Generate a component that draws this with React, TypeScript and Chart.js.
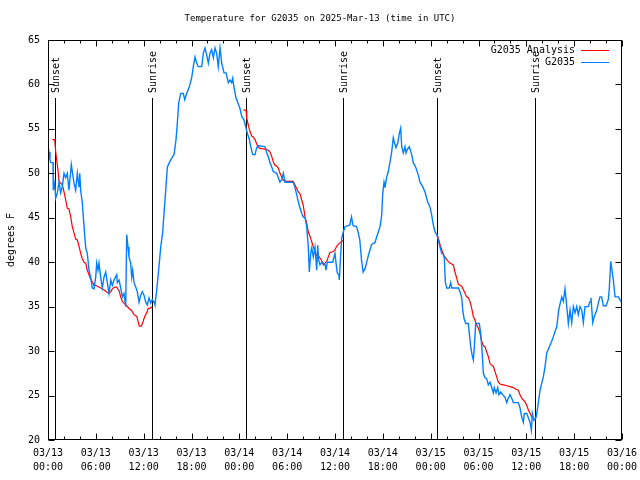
import React, { useEffect, useRef } from "react";
import { Chart, registerables } from "chart.js";

Chart.register(...registerables);

const TITLE = "Temperature for G2035 on 2025-Mar-13 (time in UTC)";
const Y_LABEL = "degrees F";
const LEGEND_ANALYSIS = "G2035 Analysis";
const LEGEND_OBS = "G2035";

const X_TICK_HOURS = [0, 6, 12, 18, 24, 30, 36, 42, 48, 54, 60, 66, 72];
const X_TICK_LABELS: string[][] = [
  ["03/13", "00:00"], ["03/13", "06:00"], ["03/13", "12:00"], ["03/13", "18:00"],
  ["03/14", "00:00"], ["03/14", "06:00"], ["03/14", "12:00"], ["03/14", "18:00"],
  ["03/15", "00:00"], ["03/15", "06:00"], ["03/15", "12:00"], ["03/15", "18:00"],
  ["03/16", "00:00"],
];
const X_MINOR_STEP = 2;
const Y_MIN = 20;
const Y_MAX = 65;
const Y_STEP = 5;

const SUN_LABELS = ["Sunset", "Sunrise", "Sunset", "Sunrise", "Sunset", "Sunrise"];
const SUN_HOURS = [0.83, 13.08, 24.88, 37.04, 48.83, 61.13];

// Observations: [hours since 03/13 00:00 UTC, degrees F]
const OBS_NIGHT1: number[][] = [
  [0, 53.1], [0.13, 52.4], [0.25, 51.5], [0.34, 51.2], [0.63, 51.2], [0.66, 48.1], [0.84, 48.9], [0.97, 47.2],
  [1.17, 47.8], [1.38, 49], [1.59, 47.8], [1.79, 48.5], [2.01, 50], [2.22, 49.5], [2.42, 50], [2.63, 48.1],
  [2.92, 51], [3.05, 50.2], [3.26, 48.9], [3.47, 48.1], [3.68, 50], [3.89, 48.5], [3.98, 50], [4.1, 48.1],
  [4.3, 46.7], [4.43, 45.1], [4.6, 43.1], [4.73, 41.6], [4.93, 41], [5.14, 39.1], [5.36, 38.3], [5.56, 37.1],
  [5.77, 37], [5.98, 38.3], [6.11, 39.9], [6.27, 39.1], [6.4, 39.9], [6.61, 38.3], [6.81, 37.1], [7.02, 38.3],
  [7.24, 38.9], [7.44, 37.7], [7.65, 36.5], [7.87, 38], [8.07, 37.4], [8.28, 38], [8.62, 38.6], [8.69, 37.7],
  [8.91, 38], [9.12, 37.1], [9.32, 36.1], [9.53, 36.5], [9.75, 35], [9.87, 43.1], [10.04, 41.7], [10.16, 40.6],
  [10.37, 39.9], [10.5, 38.3], [10.62, 39.1], [10.79, 37.7], [11, 37.2], [11.2, 36.7], [11.42, 35.5], [11.63, 36.3],
  [11.83, 36.7], [12.04, 36.3], [12.26, 35.5], [12.46, 35.2], [12.67, 36], [12.88, 35.4], [13.08, 35.8], [13.3, 35.5],
  [13.42, 35.2], [13.64, 36.9], [13.92, 39.5],
];
const OBS_DAY1: number[][] = [
  [14.14, 41.7], [14.39, 43.4], [14.55, 45.5], [14.8, 48.5], [14.97, 50.7], [15.22, 51.2], [15.52, 51.7], [15.81, 52.1],
  [16.06, 53.8], [16.22, 55.6], [16.39, 57.9], [16.65, 59], [16.97, 59], [17.15, 58.3], [17.4, 59], [17.72, 59.7],
  [18.03, 60.8], [18.23, 62], [18.44, 63.1], [18.65, 62.4], [18.85, 62], [19.28, 62], [19.48, 63.5], [19.69, 64.1],
  [19.91, 63.3], [20.11, 62.4], [20.32, 63.5], [20.53, 63.9], [20.74, 63], [20.95, 64.1], [21.16, 63.5], [21.36, 62],
  [21.58, 64.1], [21.79, 62.4], [22.08, 61.3], [22.33, 61.3], [22.62, 60.2], [22.83, 60.5], [23.04, 60.2], [23.17, 60.7],
  [23.33, 59.7], [23.58, 58.5], [23.87, 57.8], [24.08, 57.3], [24.3, 56.4], [24.59, 56], [24.84, 55.1],
];
const OBS_NIGHT2: number[][] = [
  [25, 54.5], [25.26, 53.8], [25.43, 53], [25.68, 52.1], [25.97, 52.1], [26.18, 52.9], [26.38, 53.1], [27.22, 53],
  [27.43, 52.3], [27.63, 51.9], [27.85, 51.2], [28.06, 50.7], [28.26, 50.2], [28.69, 50], [28.89, 49.5], [29.1, 49],
  [29.32, 49.3], [29.52, 50], [29.73, 49], [30.77, 49], [30.98, 48.4], [31.2, 47.6], [31.4, 46.8], [31.61, 46.1],
  [31.82, 45.5], [32.02, 45.1], [32.24, 45], [32.45, 44], [32.65, 41.7], [32.78, 38.9], [32.95, 41], [33.08, 41.6],
  [33.28, 40.6], [33.49, 41.7], [33.71, 39.1], [33.83, 41.9], [33.96, 40.2], [34.12, 39.7], [34.33, 40], [34.53, 39.9],
  [34.75, 39.7], [34.87, 39.1], [35.04, 40], [35.71, 40], [36, 41], [36.13, 39.9], [36.29, 38.8], [36.47, 38.6],
  [36.54, 38], [36.72, 41], [36.84, 42.7], [37.04, 43.4], [37.26, 44],
];
const OBS_DAY2: number[][] = [
  [37.86, 44.2], [38.07, 45.1], [38.27, 44.1], [38.7, 44], [38.9, 43.4], [39.11, 42.5], [39.33, 40.2], [39.53, 38.9],
  [39.78, 39.3], [40.03, 40.2], [40.29, 41.1], [40.59, 42], [41.01, 42.2], [41.22, 42.8], [41.43, 43.4], [41.65, 44],
  [41.86, 45.3], [41.99, 47.8], [42.15, 49], [42.27, 48.4], [42.49, 49.6], [42.69, 50.2], [42.9, 51.3], [43.11, 52.4],
  [43.31, 54], [43.44, 53.5], [43.65, 52.9], [43.87, 53.4], [44.07, 54.5], [44.24, 55.1], [44.37, 53], [44.57, 52.3],
  [44.78, 53], [44.91, 52.3], [45.07, 52.7], [45.32, 53], [45.62, 52.1], [45.82, 51.2], [46.16, 50.6], [46.45, 49.8],
  [46.66, 49], [47, 48.5], [47.29, 47.9], [47.5, 47.2], [47.7, 46.6], [47.92, 46.2], [48.13, 45.3], [48.33, 44.2],
  [48.55, 43.4], [48.76, 43.1],
];
const OBS_NIGHT3: number[][] = [
  [48.96, 42.5], [49.17, 41.7], [49.39, 41], [49.59, 41], [49.71, 40.5], [49.84, 37.8], [50.01, 37.1], [50.34, 37.1],
  [50.51, 37.7], [50.64, 37.1], [51.47, 37.1], [51.68, 36.7], [51.9, 36], [52.02, 34.6], [52.18, 33.7], [52.4, 33.1],
  [52.72, 33.1], [52.85, 32], [53.02, 30.5], [53.19, 29.6], [53.35, 29], [53.48, 30.5], [53.65, 33.1], [54.1, 33.1],
  [54.28, 32], [54.44, 30.1], [54.61, 27.5], [54.82, 27], [55.03, 26.9], [55.23, 26.2], [55.45, 26.5], [55.66, 25.9],
  [55.86, 25.3], [55.98, 25.9], [56.2, 25.3], [56.41, 25.9], [56.57, 25.1], [56.79, 25.4], [57.04, 25.1], [57.33, 24.8],
  [57.54, 24.2], [57.74, 24.7], [57.95, 25.1], [58.17, 24.7], [58.37, 24.2], [58.99, 24.2], [59.21, 23.6], [59.42, 22.6],
  [59.62, 22], [59.75, 23], [60.05, 23], [60.25, 22.5], [60.46, 22], [60.63, 21.1], [60.75, 23], [60.96, 22.2],
  [61.21, 22.5], [61.38, 23.4], [61.55, 24.5], [61.72, 25.6], [61.93, 26.4], [62.13, 27.1], [62.34, 28.2], [62.56, 29.8],
  [62.76, 30.2],
];
const OBS_DAY3: number[][] = [
  [63.18, 31.1], [63.38, 31.6], [63.6, 32.2], [63.81, 32.7], [63.94, 33.7], [64.06, 34.6], [64.23, 35.3], [64.44, 36.1],
  [64.64, 35.6], [64.85, 37], [65.07, 35], [65.27, 33.1], [65.48, 34.6], [65.69, 33.2], [65.9, 35], [66.11, 34.3],
  [66.32, 35], [66.52, 34.1], [66.73, 35], [66.95, 34.6], [67.15, 33.2], [67.36, 35], [67.78, 35], [67.99, 35.6],
  [68.11, 36], [68.33, 33.2], [68.53, 33.9], [68.83, 34.6], [69.03, 35.4], [69.24, 36.1], [69.45, 36.1], [69.66, 35.1],
  [70, 35.1], [70.28, 35.8], [70.41, 37.1], [70.59, 40.1], [70.71, 39.3], [70.91, 38], [71.13, 36.1], [71.54, 36.1],
  [71.75, 35.8], [72, 35.4],
];

// Analysis (night-time only)
const ANALYSIS_NIGHT1: number[][] = [
  [0.54, 53.8], [0.84, 53.8], [0.97, 52.4], [1.09, 51.5], [1.25, 50.4], [1.38, 49.1], [1.59, 48.9], [1.79, 48.7],
  [2.01, 47.9], [2.22, 47], [2.42, 46.1], [2.63, 46], [2.85, 45.1], [3.05, 44], [3.26, 43.3], [3.47, 42.6],
  [3.68, 42.5], [3.89, 41.8], [4.1, 41], [4.3, 40.4], [4.52, 40], [4.73, 39.9], [4.93, 39.1], [5.14, 38.6],
  [5.36, 38.1], [5.56, 37.8], [5.77, 37.4], [5.98, 37.4], [6.18, 37.3], [6.61, 37.1], [7.02, 36.9], [7.44, 36.6],
  [7.65, 36.5], [7.87, 36.7], [8.07, 37], [8.37, 37.2], [8.62, 37.2], [8.91, 36.8], [9.12, 36.1], [9.32, 35.6],
  [9.53, 35.4], [9.87, 35.1], [10.16, 34.8], [10.45, 34.6], [10.79, 34.1], [11.13, 33.9], [11.29, 33.4], [11.45, 32.8],
  [11.7, 32.8], [11.92, 33.3], [12.13, 33.9], [12.38, 34.3], [12.58, 34.8], [12.79, 34.8], [13.05, 35],
];
const ANALYSIS_NIGHT2: number[][] = [
  [24.5, 57.1], [24.84, 57.1], [24.93, 56.2], [25.13, 55.4], [25.34, 54.7], [25.55, 54.2], [25.75, 54.1], [25.97, 53.8],
  [26.18, 53.3], [26.38, 52.9], [26.59, 52.8], [27.43, 52.7], [27.63, 52.6], [27.85, 52.4], [28.06, 51.9], [28.26, 51.3],
  [28.47, 50.9], [28.69, 50.8], [28.89, 50.6], [29.1, 50], [29.32, 49.6], [29.52, 49.2], [29.94, 49.1], [30.77, 49.1],
  [30.98, 48.7], [31.2, 48.3], [31.4, 47.9], [31.61, 47.7], [31.82, 47], [32.02, 46.4], [32.24, 45.1], [32.45, 44.4],
  [32.65, 43.4], [32.87, 42.9], [33.08, 42.3], [33.28, 41.7], [33.49, 41.2], [33.71, 40.8], [34.03, 40.6], [34.33, 40.2],
  [34.53, 39.7], [34.75, 39.9], [34.96, 40.1], [35.16, 40.6], [35.37, 41.1], [35.79, 41.2], [36, 41.4], [36.21, 41.8],
  [36.42, 42], [36.63, 42.2], [36.84, 42.3], [37, 42.5],
];
const ANALYSIS_NIGHT3: number[][] = [
  [48.76, 43.3], [48.96, 42.7], [49.17, 42], [49.39, 41.4], [49.59, 40.8], [49.8, 40.6], [50.01, 40.3], [50.21, 40.1],
  [50.43, 39.9], [50.64, 39.8], [50.84, 39.7], [51.05, 38.9], [51.27, 38.2], [51.47, 37.5], [51.68, 37.4], [51.9, 37.3],
  [52.1, 36.9], [52.31, 36.5], [52.52, 36.1], [52.72, 36], [52.93, 35.6], [53.15, 34.8], [53.35, 33.9], [53.56, 33.5],
  [53.78, 32.9], [53.98, 32.6], [54.19, 32], [54.4, 31.1], [54.61, 30.6], [54.82, 30.5], [55.03, 29.9], [55.23, 29.4],
  [55.45, 28.6], [55.66, 28.4], [55.86, 28.3], [56.07, 27.7], [56.28, 27.1], [56.49, 26.5], [56.7, 26.3], [57.11, 26.2],
  [57.54, 26.1], [57.95, 26], [58.37, 25.9], [58.71, 25.7], [58.99, 25.6], [59.21, 25.1], [59.42, 24.7], [59.62, 24.5],
  [59.84, 24.3], [60.05, 23.9], [60.25, 23.4], [60.46, 23], [60.67, 22.6], [60.96, 22.5],
];

const FONT = "'DejaVu Sans Mono', 'Liberation Mono', monospace";
const RED = "#ff0000";
const BLUE = "#0080ff";

function toPoints(segs: number[][][]) {
  const out: { x: number; y: number | null }[] = [];
  segs.forEach((seg, i) => {
    if (i > 0) out.push({ x: (segs[i - 1][segs[i - 1].length - 1][0] + seg[0][0]) / 2, y: null });
    seg.forEach((p) => out.push({ x: p[0], y: p[1] }));
  });
  return out;
}

const decor = {
  id: "decor",
  beforeDatasetsDraw(chart: any) {
    const { ctx, chartArea, scales } = chart;
    const x = scales.x;
    ctx.save();
    ctx.strokeStyle = "#000";
    ctx.fillStyle = "#000";
    ctx.lineWidth = 1;
    ctx.font = `10px ${FONT}`;
    SUN_HOURS.forEach((h, i) => {
      const px = Math.round(x.getPixelForValue(h)) + 0.5;
      ctx.beginPath();
      ctx.moveTo(px, chartArea.top + 58);
      ctx.lineTo(px, chartArea.bottom);
      ctx.stroke();
      ctx.save();
      ctx.translate(px + 1, chartArea.top + 53);
      ctx.rotate(-Math.PI / 2);
      ctx.textAlign = "left";
      ctx.textBaseline = "middle";
      ctx.fillText(SUN_LABELS[i], 0, 0);
      ctx.restore();
    });
    ctx.restore();
  },
  afterDatasetsDraw(chart: any) {
    const { ctx, chartArea, scales } = chart;
    const x = scales.x;
    const y = scales.y;
    const L = chartArea.left + 0.5;
    const R = chartArea.right - 0.5;
    const T = chartArea.top + 0.5;
    const B = chartArea.bottom - 0.5;
    ctx.save();
    ctx.strokeStyle = "#000";
    ctx.lineWidth = 1;
    ctx.strokeRect(L, T, R - L, B - T);
    ctx.beginPath();
    for (let h = X_TICK_HOURS[0]; h <= X_TICK_HOURS[X_TICK_HOURS.length - 1]; h += X_MINOR_STEP) {
      const px = Math.round(x.getPixelForValue(h)) + 0.5;
      const len = X_TICK_HOURS.includes(h) ? 6 : 3;
      ctx.moveTo(px, B);
      ctx.lineTo(px, B - len);
      ctx.moveTo(px, T);
      ctx.lineTo(px, T + len);
    }
    for (let v = Y_MIN; v <= Y_MAX; v += Y_STEP) {
      const py = Math.round(y.getPixelForValue(v)) + 0.5;
      ctx.moveTo(L, py);
      ctx.lineTo(L + 6, py);
      ctx.moveTo(R, py);
      ctx.lineTo(R - 6, py);
    }
    ctx.stroke();

    ctx.fillStyle = "#000";
    ctx.font = `9px ${FONT}`;
    ctx.textAlign = "center";
    ctx.textBaseline = "middle";
    ctx.fillText(TITLE, 320, 19);

    ctx.font = `10px ${FONT}`;
    ctx.save();
    ctx.translate(11, (chartArea.top + chartArea.bottom) / 2);
    ctx.rotate(-Math.PI / 2);
    ctx.fillText(Y_LABEL, 0, 0);
    ctx.restore();

    const rows = [
      { label: LEGEND_ANALYSIS, color: RED, y: chartArea.top + 10.5 },
      { label: LEGEND_OBS, color: BLUE, y: chartArea.top + 22.5 },
    ];
    rows.forEach((r) => {
      ctx.fillStyle = "#000";
      ctx.textAlign = "right";
      ctx.fillText(r.label, chartArea.right - 47, r.y);
      ctx.strokeStyle = r.color;
      ctx.beginPath();
      ctx.moveTo(chartArea.right - 41, r.y);
      ctx.lineTo(chartArea.right - 13, r.y);
      ctx.stroke();
    });
    ctx.restore();
  },
};

export default function App() {
  const ref = useRef<HTMLCanvasElement | null>(null);
  useEffect(() => {
    if (!ref.current) return;
    const chart = new Chart(ref.current, {
      type: "line",
      data: {
        datasets: [
          {
            label: LEGEND_OBS,
            data: toPoints([OBS_NIGHT1, OBS_DAY1, OBS_NIGHT2, OBS_DAY2, OBS_NIGHT3, OBS_DAY3]).filter((p) => p.y !== null),
            borderColor: BLUE,
            borderWidth: 1.4,
            pointRadius: 0,
            tension: 0,
            order: 0,
          },
          {
            label: LEGEND_ANALYSIS,
            data: toPoints([ANALYSIS_NIGHT1, ANALYSIS_NIGHT2, ANALYSIS_NIGHT3]),
            borderColor: RED,
            borderWidth: 1.2,
            pointRadius: 0,
            tension: 0,
            spanGaps: false,
            order: 1,
          },
        ],
      },
      options: {
        animation: false,
        responsive: false,
        devicePixelRatio: 1,
        parsing: false,
        layout: { padding: { top: 40, right: 18, left: 0, bottom: 0 } },
        plugins: { legend: { display: false }, title: { display: false }, tooltip: { enabled: false } },
        scales: {
          x: {
            type: "linear",
            min: X_TICK_HOURS[0],
            max: X_TICK_HOURS[X_TICK_HOURS.length - 1],
            grid: { display: false, drawTicks: false },
            border: { display: false },
            afterBuildTicks: (s: any) => {
              s.ticks = X_TICK_HOURS.map((v) => ({ value: v }));
            },
            afterFit: (s: any) => {
              s.height = 40;
              s.paddingLeft = 0;
              s.paddingRight = 0;
            },
            ticks: {
              autoSkip: false,
              maxRotation: 0,
              padding: 6,
              color: "#000",
              font: { family: FONT, size: 10, lineHeight: "14px" },
              callback: (v: any) => {
                const i = X_TICK_HOURS.indexOf(Number(v));
                return i >= 0 ? X_TICK_LABELS[i] : "";
              },
            },
          },
          y: {
            type: "linear",
            min: Y_MIN,
            max: Y_MAX,
            grid: { display: false, drawTicks: false },
            border: { display: false },
            afterFit: (s: any) => {
              s.width = 48;
              s.paddingTop = 0;
              s.paddingBottom = 0;
            },
            ticks: {
              stepSize: Y_STEP,
              padding: 8,
              color: "#000",
              font: { family: FONT, size: 10 },
            },
          },
        },
      },
      plugins: [decor],
    });
    return () => chart.destroy();
  }, []);
  return (
    <div style={{ position: "absolute", left: 0, top: 0, width: 640, height: 480, background: "#fff" }}>
      <canvas ref={ref} width={640} height={480} />
    </div>
  );
}
